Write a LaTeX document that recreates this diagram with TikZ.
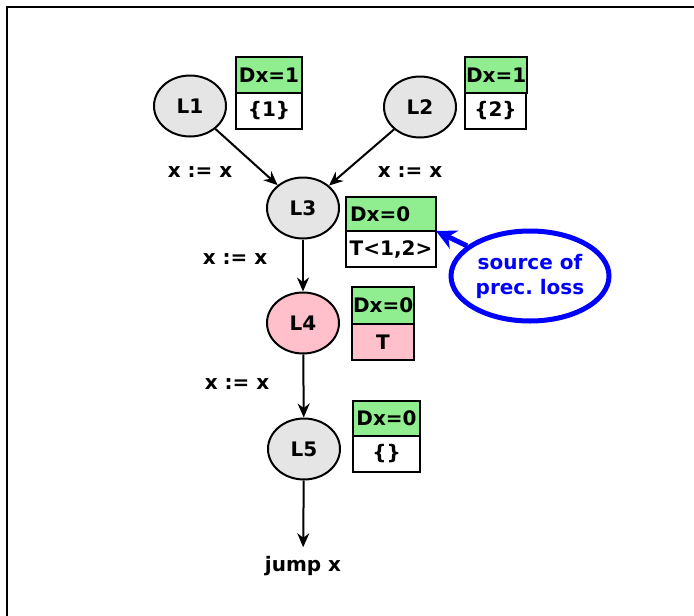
\documentclass[tikz,border=0pt]{standalone}
\usepackage{fontspec}
\setmainfont{DejaVu Sans}
\usetikzlibrary{shapes.geometric,arrows.meta}
\definecolor{nodegray}{HTML}{E5E5E5}
\definecolor{boxgreen}{HTML}{90EE90}
\definecolor{boxpink}{HTML}{FFC0CB}
\begin{document}
\begin{tikzpicture}[x=1pt,y=-1pt,line width=2pt,
  every node/.style={font=\fontsize{20}{23}\selectfont\bfseries},
  loc/.style={ellipse,draw,fill=nodegray,minimum width=72pt,minimum height=61pt,inner sep=0pt},
  facttop/.style={draw,fill=boxgreen,minimum height=36pt,inner sep=1pt,outer sep=0pt,anchor=north west},
  factbot/.style={draw,fill=white,minimum height=36pt,inner sep=1pt,outer sep=0pt,anchor=north west},
  flow/.style={-{Stealth[length=14pt,width=12pt]}},
  lbl/.style={inner sep=0pt}]
  \useasboundingbox (0,0) rectangle (694,616);
  \clip (0,0) rectangle (694,616);
  % outer frame
  \draw (7,7) rectangle (720,640);

  % program locations
  \node[loc] (L1) at (190,106) {L1};
  \node[loc] (L2) at (420,107) {L2};
  \node[loc] (L3) at (303,208) {L3};
  \node[loc,fill=boxpink] (L4) at (303,323) {L4};
  \node[loc] (L5) at (304,449) {L5};
  \node[inner sep=1pt] (jmp) at (303,566) {jump x};

  % facts attached to each location
  \node[facttop,minimum width=66pt] (f1t) at (236,57) {Dx=1};
  \node[factbot,minimum width=66pt] (f1b) at (f1t.south west) {\{1\}};
  \node[facttop,minimum width=61pt] (f2t) at (465,57) {Dx=1};
  \node[factbot,minimum width=61pt] (f2b) at (f2t.south west) {\{2\}};
  \node[facttop,minimum width=90pt,text width=82pt,align=left,inner sep=4pt,minimum height=34pt] (f3t) at (346,197) {Dx=0};
  \node[factbot,minimum width=90pt] (f3b) at (f3t.south west) {T<1,2>};
  \node[facttop,minimum width=62pt,minimum height=37pt] (f4t) at (352,287) {Dx=0};
  \node[factbot,minimum width=62pt,fill=boxpink] (f4b) at (f4t.south west) {T};
  \node[facttop,minimum width=67pt,minimum height=35pt] (f5t) at (353,401) {Dx=0};
  \node[factbot,minimum width=67pt] (f5b) at (f5t.south west) {\{\}};

  % transitions
  \draw[flow] (L1) -- (L3);
  \draw[flow] (L2) -- (L3);
  \draw[flow] (L3) -- (L4);
  \draw[flow] (L4) -- (L5);
  \draw[flow,shorten >=7pt] (L5) -- (jmp);
  \node[lbl] (e13) at (200,172) {x := x};
  \node[lbl] (e23) at (410,172) {x := x};
  \node[lbl] (e34) at (235,259) {x := x};
  \node[lbl] (e45) at (237,384) {x := x};

  % annotation
  \node[ellipse,draw=blue,line width=5pt,minimum width=158pt,minimum height=90pt,
        text=blue,align=center,inner sep=0pt,font=\fontsize{20}{25}\selectfont\bfseries] (src) at (530,276) {source of\\prec.\ loss};
  \draw[blue,line width=5pt,-{Stealth[length=20pt,width=20pt]}] (src) -- (f3t.south east);
\end{tikzpicture}
\end{document}
